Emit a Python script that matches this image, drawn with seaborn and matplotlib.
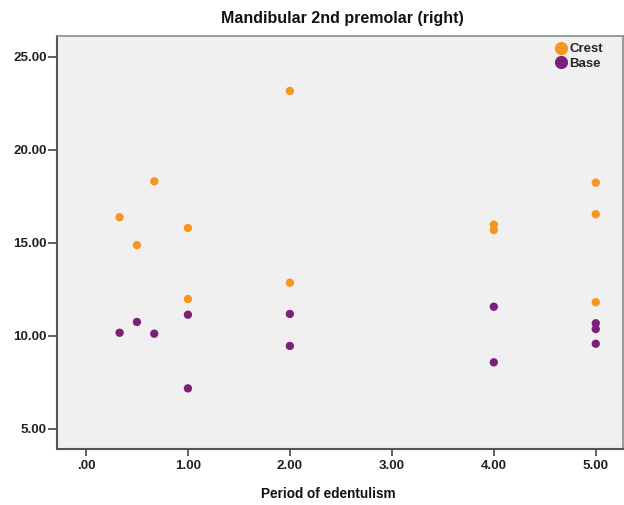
import matplotlib
matplotlib.use("Agg")
import matplotlib.pyplot as plt
import seaborn as sns
import pandas as pd
from matplotlib.lines import Line2D

# Period of edentulism (years) for each measured site
period = [0.33, 0.50, 0.67, 1.00, 1.00, 2.00, 2.00, 4.00, 4.00, 5.00, 5.00, 5.00]
# Bone height at the crest and at the base
crest = [16.37, 14.87, 18.30, 15.79, 11.97, 23.16, 12.85, 15.97, 15.68, 18.23, 16.53, 11.80]
base = [10.16, 10.74, 10.11, 11.13, 7.17, 11.17, 9.45, 11.56, 8.57, 10.67, 10.36, 9.57]

series_names = ["Crest", "Base"]
x_ticks = [0, 1, 2, 3, 4, 5]
x_tick_labels = [".00", "1.00", "2.00", "3.00", "4.00", "5.00"]
y_ticks = [5, 10, 15, 20, 25]
y_tick_labels = ["5.00", "10.00", "15.00", "20.00", "25.00"]

colors = {"Crest": "#F7961E", "Base": "#7B2078"}

df = pd.DataFrame({
    "period": period * 2,
    "value": crest + base,
    "site": ["Crest"] * len(crest) + ["Base"] * len(base),
})

sns.set_theme(style="white")
plt.rcParams["font.family"] = ["Liberation Sans", "DejaVu Sans"]

fig = plt.figure(figsize=(6.24, 5.05), dpi=100)
ax = fig.add_axes([57.3 / 624, 1 - 449 / 505, (623 - 57.3) / 624, (449 - 35.7) / 505])
ax.set_facecolor("#F0F0F0")

sns.scatterplot(data=df, x="period", y="value", hue="site", hue_order=series_names,
                palette=colors, s=36, linewidth=0, ax=ax, legend=False, zorder=3)

ax.set_xlim(-0.281, 5.267)
ax.set_ylim(3.91, 26.13)
ax.set_xticks(x_ticks)
ax.set_xticklabels(x_tick_labels, fontsize=9.6, fontweight="bold", color="#222222")
ax.set_yticks(y_ticks)
ax.set_yticklabels(y_tick_labels, fontsize=9.6, fontweight="bold", color="#222222")
ax.tick_params(axis="y", direction="out", length=6.5, width=1.2, color="#444444", pad=1, left=True)
ax.tick_params(axis="x", direction="out", length=5, width=1.2, color="#444444", pad=3, bottom=True)

for side in ["left", "bottom"]:
    ax.spines[side].set_color("#555555")
    ax.spines[side].set_linewidth(1.5)
for side in ["top", "right"]:
    ax.spines[side].set_color("#8A8A8A")
    ax.spines[side].set_linewidth(1.2)

ax.set_xlabel("")
ax.set_ylabel("")

fig.text(342 / 624, 1 - 18 / 505, "Mandibular 2nd premolar (right)", ha="center", va="center",
         fontsize=11.5, fontweight="bold", color="#111111")
fig.text(328 / 624, 1 - 494 / 505, "Period of edentulism", ha="center", va="center",
         fontsize=9.8, fontweight="bold", color="#111111")

handles = [Line2D([], [], marker="o", linestyle="", markersize=9.5, markeredgewidth=0,
                  color=colors[n], label=n) for n in series_names]
leg = ax.legend(handles=handles, loc="upper right", frameon=False, handletextpad=0.0,
                borderaxespad=0, borderpad=0, labelspacing=0.15, handlelength=1.3,
                prop={"size": 9.5, "weight": "bold"}, bbox_to_anchor=(0.965, 0.982))

fig.savefig("out.png", dpi=100, facecolor="white")
